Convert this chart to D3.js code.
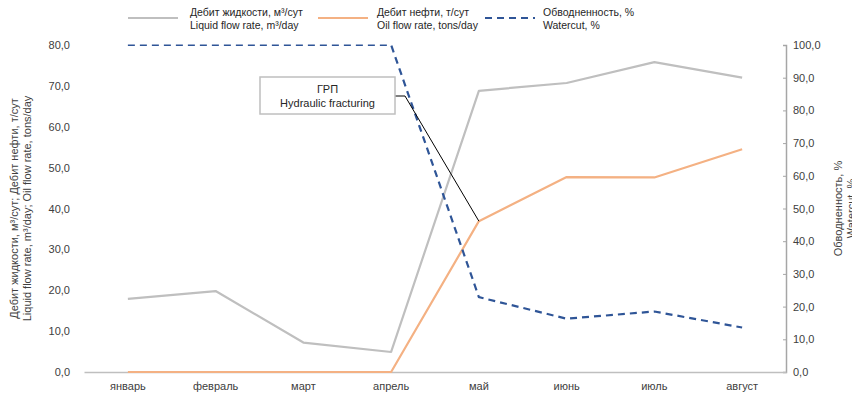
<!DOCTYPE html>
<html>
<head>
<meta charset="utf-8">
<script src="https://cdn.jsdelivr.net/npm/d3@7"></script>
<style>
  html, body { margin: 0; padding: 0; background: #fff; }
  svg { display: block; font-family: "Liberation Sans", Arial, sans-serif; }
</style>
</head>
<body>
<svg id="chart" width="852" height="398"></svg>
<script>
// Monthly well performance before and after hydraulic fracturing
const months = ["январь", "февраль", "март", "апрель", "май", "июнь", "июль", "август"];
const liquidRate = [17.9, 19.8, 7.2, 4.9, 68.8, 70.7, 75.8, 72.0];   // m³/day
const oilRate    = [0, 0, 0, 0, 36.9, 47.7, 47.6, 54.5];             // tons/day
const waterCut   = [100, 100, 100, 100, 22.9, 16.3, 18.5, 13.6];    // %
const leftTicks  = [0, 10, 20, 30, 40, 50, 60, 70, 80];
const rightTicks = [0, 10, 20, 30, 40, 50, 60, 70, 80, 90, 100];
const fracMonth = "май";

const legendItems = [
  { lines: ["Дебит жидкости, м³/сут", "Liquid flow rate, m³/day"], color: "#bfbfbf", dash: null },
  { lines: ["Дебит нефти, т/сут", "Oil flow rate, tons/day"], color: "#f4b183", dash: null },
  { lines: ["Обводненность, %", "Watercut, %"], color: "#2f5597", dash: "7,5" }
];

const svg = d3.select("#chart");
const plot = { left: 84, right: 786, top: 45, bottom: 372 };

const x = d3.scaleBand().domain(months).range([plot.left, plot.right]);
const yL = d3.scaleLinear().domain([0, 80]).range([plot.bottom, plot.top]);
const yR = d3.scaleLinear().domain([0, 100]).range([plot.bottom, plot.top]);
const cx = m => x(m) + x.bandwidth() / 2;
const fmt = v => d3.format(".1f")(v).replace(".", ",");

svg.append("defs").append("clipPath").attr("id", "plotClip")
  .append("rect").attr("x", 0).attr("y", plot.top - 0.4).attr("width", 852).attr("height", plot.bottom - plot.top + 5);

// Left axis: labels only
const gL = svg.append("g").attr("transform", `translate(${plot.left - 14},0)`)
  .call(d3.axisLeft(yL).tickValues(leftTicks).tickFormat(fmt).tickSize(0).tickPadding(0));
gL.select(".domain").remove();
gL.selectAll("text").attr("fill", "#404040").attr("font-size", 11).attr("font-family", "Liberation Sans, Arial, sans-serif");

// Right axis with inward ticks
const gR = svg.append("g").attr("transform", `translate(${plot.right},0)`)
  .call(d3.axisRight(yR).tickValues(rightTicks).tickFormat(fmt).tickSizeInner(-3).tickSizeOuter(-3).tickPadding(7));
gR.select(".domain").attr("stroke", "#a6a6a6").attr("stroke-width", 1.5);
gR.selectAll("line").attr("stroke", "#a6a6a6").attr("stroke-width", 1);
gR.selectAll("text").attr("fill", "#404040").attr("font-size", 11).attr("font-family", "Liberation Sans, Arial, sans-serif");

// Category axis
const gX = svg.append("g").attr("transform", `translate(0,${plot.bottom})`)
  .call(d3.axisBottom(x).tickSize(0).tickPadding(10));
gX.select(".domain").attr("stroke", "#bfbfbf").attr("stroke-width", 1.5);
gX.selectAll("text").attr("fill", "#404040").attr("font-size", 11).attr("font-family", "Liberation Sans, Arial, sans-serif");

// Axis titles
const leftTitle = svg.append("text")
  .attr("transform", `translate(18,${(plot.top + plot.bottom) / 2}) rotate(-90)`)
  .attr("text-anchor", "middle").attr("font-size", 11).attr("fill", "#404040");
leftTitle.append("tspan").attr("x", 0).attr("dy", 0).text("Дебит жидкости, м³/сут; Дебит нефти, т/сут");
leftTitle.append("tspan").attr("x", 0).attr("dy", 12.5).text("Liquid flow rate, m³/day; Oil flow rate, tons/day");

const rightTitle = svg.append("text")
  .attr("transform", `translate(842,${(plot.top + plot.bottom) / 2}) rotate(-90)`)
  .attr("text-anchor", "middle").attr("font-size", 11).attr("fill", "#404040");
rightTitle.append("tspan").attr("x", 0).attr("dy", 0).text("Обводненность, %");
rightTitle.append("tspan").attr("x", 0).attr("dy", 12.5).text("Watercut, %");

// Series
const series = svg.append("g").attr("clip-path", "url(#plotClip)");
const lineL = d3.line().x((d, i) => cx(months[i])).y(d => yL(d));
const lineR = d3.line().x((d, i) => cx(months[i])).y(d => yR(d));

series.append("path").datum(liquidRate).attr("d", lineL)
  .attr("fill", "none").attr("stroke", "#bfbfbf").attr("stroke-width", 2.2).attr("stroke-linejoin", "round");
series.append("path").datum(oilRate).attr("d", lineL)
  .attr("fill", "none").attr("stroke", "#f4b183").attr("stroke-width", 2.2).attr("stroke-linejoin", "round");
series.append("path").datum(waterCut).attr("d", lineR)
  .attr("fill", "none").attr("stroke", "#2f5597").attr("stroke-width", 2.2).attr("stroke-dasharray", "7,5");

// Callout for the fracturing event
const fracIdx = months.indexOf(fracMonth);
const box = { x: 260, y: 77, w: 135, h: 37 };
const target = [cx(fracMonth), yL(oilRate[fracIdx])];
svg.append("polyline")
  .attr("points", [[box.x + box.w, box.y + 19], [box.x + box.w + 10, box.y + 19], target].map(p => p.join(",")).join(" "))
  .attr("fill", "none").attr("stroke", "#000").attr("stroke-width", 1);
svg.append("rect").attr("x", box.x).attr("y", box.y).attr("width", box.w).attr("height", box.h)
  .attr("fill", "#fff").attr("stroke", "#bfbfbf").attr("stroke-width", 1.5);
const callText = svg.append("text").attr("text-anchor", "middle").attr("font-size", 11).attr("fill", "#262626");
callText.append("tspan").attr("x", box.x + box.w / 2).attr("y", box.y + 16).text("ГРП");
callText.append("tspan").attr("x", box.x + box.w / 2).attr("y", box.y + 30).text("Hydraulic fracturing");

// Legend
const legX = [128, 318, 485];
const leg = svg.append("g");
legendItems.forEach((item, i) => {
  const g = leg.append("g").attr("transform", `translate(${legX[i]},0)`);
  g.append("line").attr("x1", 0).attr("x2", 50).attr("y1", 18).attr("y2", 18)
    .attr("stroke", item.color).attr("stroke-width", 2.2).attr("stroke-dasharray", item.dash);
  const t = g.append("text").attr("font-size", 10.5).attr("fill", "#262626");
  const tx = i === 0 ? 62 : (i === 1 ? 59 : 58);
  t.append("tspan").attr("x", tx).attr("y", 16).text(item.lines[0]);
  t.append("tspan").attr("x", tx).attr("y", 29).text(item.lines[1]);
});
</script>
</body>
</html>
